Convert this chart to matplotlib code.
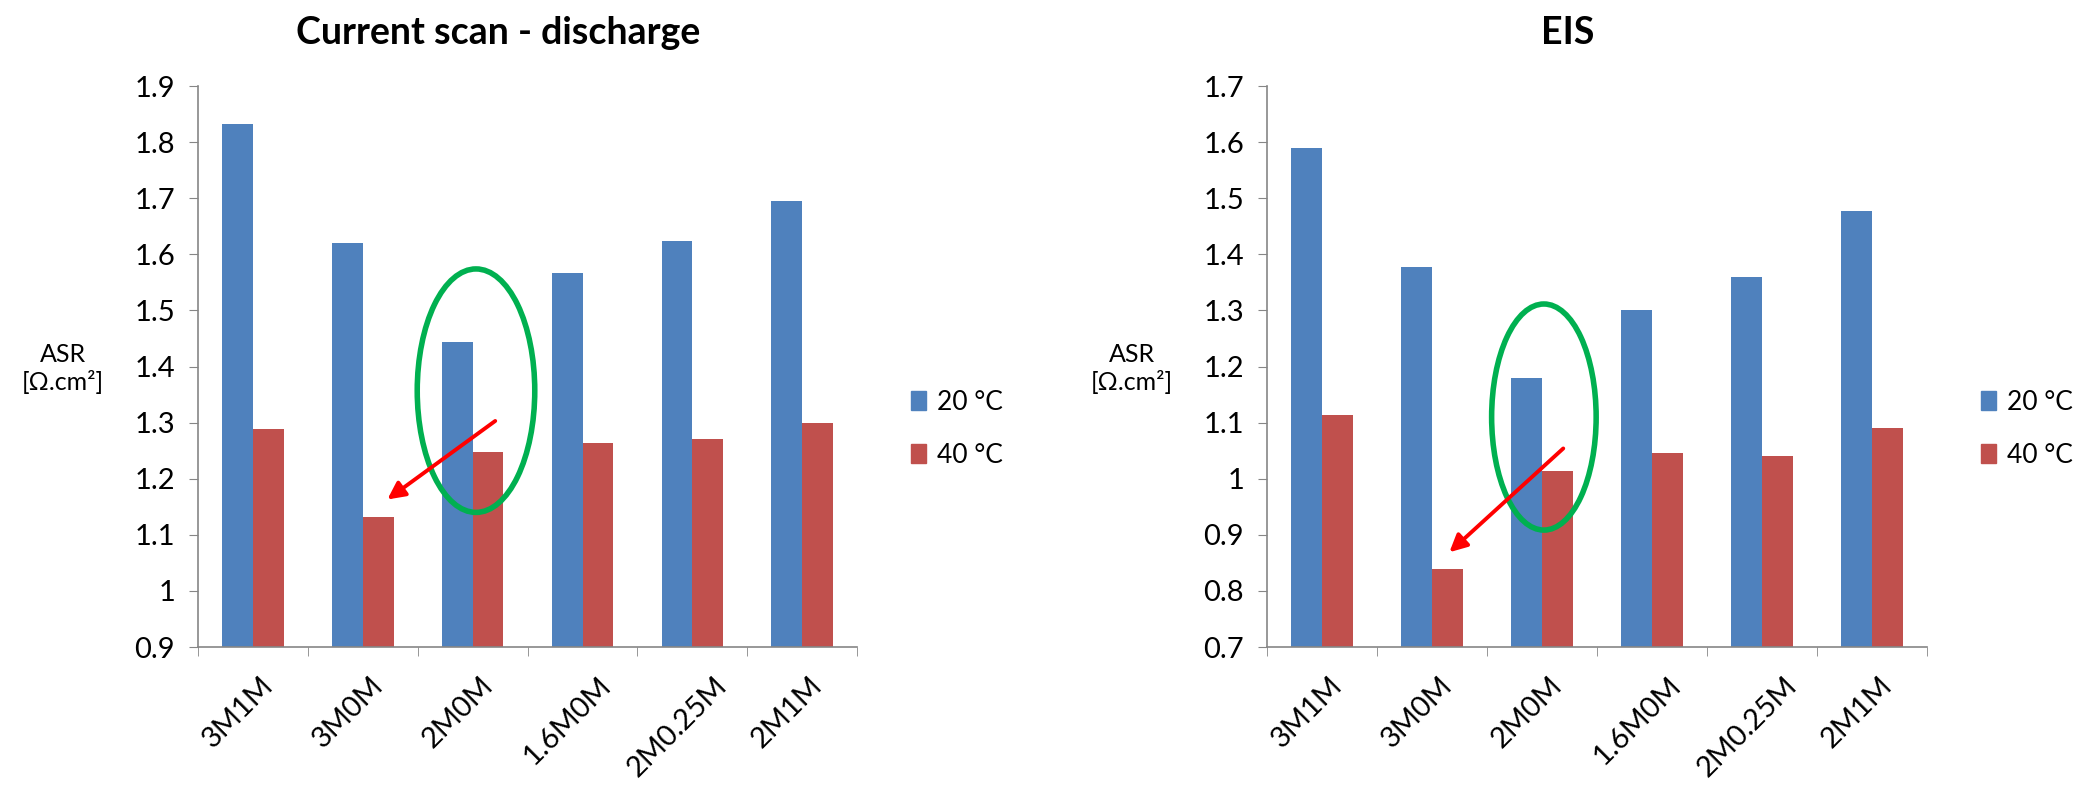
import matplotlib
matplotlib.use("Agg")
import matplotlib.pyplot as plt
import matplotlib.transforms as mtransforms
import numpy as np
from matplotlib.patches import Ellipse, Patch

plt.rcParams['font.family'] = ['Lato', 'DejaVu Sans']

categories = ["3M1M", "3M0M", "2M0M", "1.6M0M", "2M0.25M", "2M1M"]
series_names = ["20 °C", "40 °C"]

# ASR from current scan (discharge)
scan_20 = [1.832, 1.620, 1.443, 1.567, 1.623, 1.695]
scan_40 = [1.288, 1.131, 1.248, 1.264, 1.270, 1.300]

# ASR from EIS
eis_20 = [1.589, 1.378, 1.179, 1.300, 1.359, 1.478]
eis_40 = [1.114, 0.839, 1.014, 1.046, 1.041, 1.091]

BLUE = "#4F81BD"
RED = "#C0504D"
GREEN = "#00B050"
AXIS_GREY = "#868686"


def draw_panel(ax, s20, s40, ylim, title, ellipse, arrow):
    x = np.arange(len(categories))
    w = 0.28
    ax.bar(x - w / 2, s20, width=w, color=BLUE, zorder=2)
    ax.bar(x + w / 2, s40, width=w, color=RED, zorder=2)

    ax.set_xlim(-0.5, len(categories) - 0.5)
    ax.set_ylim(*ylim)
    ax.set_yticks(np.round(np.arange(ylim[0], ylim[1] + 0.001, 0.1), 1))
    ax.yaxis.set_major_formatter(plt.FuncFormatter(lambda v, p: f"{v:g}"))

    # category labels sit under the bars, tick marks between categories
    ax.set_xticks(x)
    ax.set_xticklabels(categories, rotation=45, ha="center", va="top")
    ax.set_xticks(np.arange(-0.5, len(categories)), minor=True)
    ax.tick_params(axis="x", which="major", length=0, pad=18, labelsize=21)
    ax.tick_params(axis="x", which="minor", length=6.5, color=AXIS_GREY)
    ax.tick_params(axis="y", length=6.5, color=AXIS_GREY, labelsize=21, pad=10)
    shift = mtransforms.ScaledTranslation(-0.15, 0, ax.figure.dpi_scale_trans)
    for lab in ax.get_xticklabels():
        lab.set_transform(lab.get_transform() + shift)

    for side in ("top", "right"):
        ax.spines[side].set_visible(False)
    for side in ("left", "bottom"):
        ax.spines[side].set_color(AXIS_GREY)
        ax.spines[side].set_linewidth(1.2)

    ax.text(-0.205, 0.496, "ASR\n[Ω.cm²]", transform=ax.transAxes,
            ha="center", va="center", fontsize=18, linespacing=1.2)

    handles = [Patch(color=BLUE), Patch(color=RED)]
    ax.legend(handles, series_names, loc="center left",
              bbox_to_anchor=(1.045, 0.389), frameon=False, fontsize=19,
              handlelength=0.6, handleheight=0.7, handletextpad=0.4,
              labelspacing=1.05)

    ax.set_title(title, fontsize=27, fontweight="bold", pad=30, x=0.455)

    (ex, ey), ew, eh = ellipse
    ax.add_patch(Ellipse((ex, ey), ew, eh, fill=False, edgecolor=GREEN,
                         linewidth=4, zorder=4))
    (x0, y0), (x1, y1) = arrow
    ax.annotate("", xy=(x1, y1), xytext=(x0, y0),
                arrowprops=dict(arrowstyle="-|>", color="red", lw=2.8,
                                mutation_scale=26, shrinkA=0, shrinkB=0),
                zorder=5)


fig = plt.figure(figsize=(20.83, 7.86), dpi=100)
ax1 = fig.add_axes([0.0951, 0.1768, 0.3164, 0.7137])
ax2 = fig.add_axes([0.6083, 0.1768, 0.3169, 0.7137])

draw_panel(ax1, scan_20, scan_40, (0.9, 1.9), "Current scan - discharge",
           ((2.03, 1.357), 1.07, 0.434), ((2.205, 1.303), (1.223, 1.163)))
draw_panel(ax2, eis_20, eis_40, (0.7, 1.7), "EIS",
           ((2.016, 1.11), 0.95, 0.403), ((2.192, 1.054), (1.157, 0.869)))

fig.savefig("out.png", dpi=100)
